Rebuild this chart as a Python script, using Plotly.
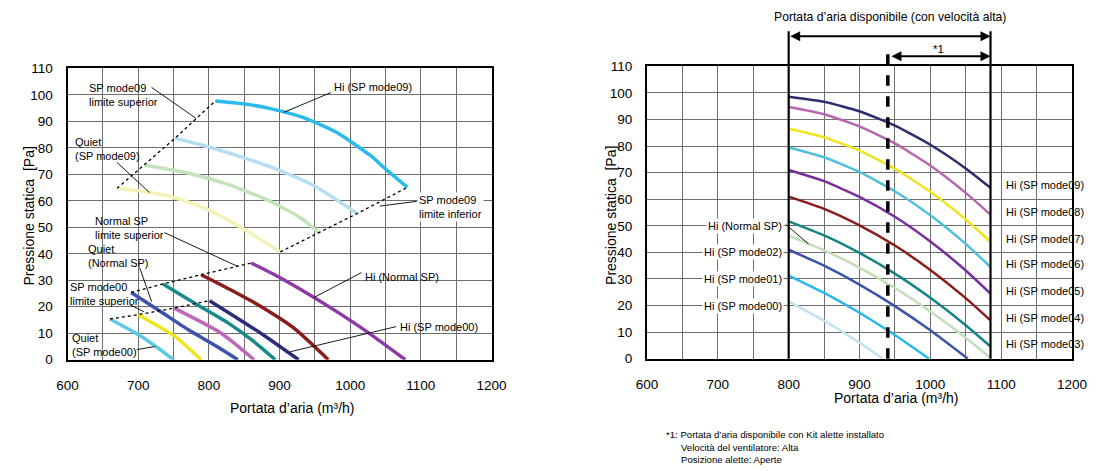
import plotly.graph_objects as go

FONT = "Liberation Sans, Arial, Helvetica, sans-serif"

# ---------------- Left chart: fan curves (air flow m3/h -> static pressure Pa)
# SP mode09 family
m09_quiet_q = [670, 720, 760, 800, 845, 901]
m09_quiet_p = [64.7, 63.0, 60.5, 56.5, 50.0, 40.7]
m09_low_q = [708, 770, 827, 887, 930, 956]
m09_low_p = [73.5, 70.5, 66.2, 59.8, 53.5, 47.9]
m09_mid_q = [752, 800, 850, 900, 950, 1010]
m09_mid_p = [83.6, 80.3, 76.2, 71.5, 65.5, 55.2]
m09_hi_q = [809, 850, 887, 934, 981, 1028, 1051, 1081]
m09_hi_p = [97.7, 96.6, 94.8, 91.4, 85.8, 77.2, 71.8, 65.1]

# Normal SP family
nsp_quiet_q = [690, 730, 771, 806, 841]
nsp_quiet_p = [25.4, 18.5, 11.3, 5.8, 0.0]
nsp_low_q = [735, 780, 827, 862, 894]
nsp_low_p = [28.6, 21.3, 13.9, 7.2, 0.0]
nsp_mid_q = [789, 830, 873, 920, 969]
nsp_mid_p = [32.1, 26.5, 20.2, 12.0, 0.0]
nsp_hi_q = [860, 895, 930, 976, 1023, 1078]
nsp_hi_p = [36.5, 31.8, 26.5, 19.0, 10.7, 0.0]

# SP mode00 family
m00_quiet_q = [660, 700, 725, 750]
m00_quiet_p = [15.4, 9.5, 5.0, 0.0]
m00_low_q = [700, 752, 789]
m00_low_p = [17.0, 8.8, 0.0]
m00_mid_q = [751, 817, 864]
m00_mid_p = [19.5, 10.1, 0.0]
m00_hi_q = [801, 873, 927]
m00_hi_p = [22.3, 10.1, 0.0]

left_series = [
    (m09_quiet_q, m09_quiet_p, "#f4f2b6", "Quiet (SP mode09)"),
    (m09_low_q, m09_low_p, "#c4e2bb", "SP mode09 L"),
    (m09_mid_q, m09_mid_p, "#b6def0", "SP mode09 M"),
    (m09_hi_q, m09_hi_p, "#2bbaec", "Hi (SP mode09)"),
    (nsp_quiet_q, nsp_quiet_p, "#3d52a8", "Quiet (Normal SP)"),
    (nsp_low_q, nsp_low_p, "#188a8a", "Normal SP L"),
    (nsp_mid_q, nsp_mid_p, "#8b1c1c", "Normal SP M"),
    (nsp_hi_q, nsp_hi_p, "#8e3aa6", "Hi (Normal SP)"),
    (m00_quiet_q, m00_quiet_p, "#5ccae0", "Quiet (SP mode00)"),
    (m00_low_q, m00_low_p, "#f0e41c", "SP mode00 L"),
    (m00_mid_q, m00_mid_p, "#c068b8", "SP mode00 M"),
    (m00_hi_q, m00_hi_p, "#2b2d7a", "Hi (SP mode00)"),
]

# ---------------- Right chart: Hi curves for every SP mode
r_q_full = [800, 850, 900, 950, 1000, 1050, 1085]
r_mode09_p = [98.6, 96.7, 93.1, 87.7, 80.5, 71.6, 64.3]
r_mode08_p = [94.7, 92.0, 87.4, 81.0, 72.7, 62.4, 54.2]
r_mode07_p = [86.5, 83.3, 78.3, 71.5, 62.8, 52.4, 44.0]
r_mode06_p = [79.5, 75.8, 70.3, 63.0, 54.0, 43.2, 34.5]
r_mode05_p = [71.0, 66.8, 60.9, 53.4, 44.1, 33.2, 24.5]
r_mode04_p = [61.0, 56.4, 50.2, 42.6, 33.4, 22.8, 14.4]
r_mode03_p = [51.7, 46.4, 39.8, 32.0, 22.9, 12.6, 4.6]
r_normal_p = [46.3, 40.8, 34.3, 26.6, 17.8, 7.9, 0.3]
r_mode02_q = [800, 850, 900, 950, 1000, 1053]
r_mode02_p = [41.0, 35.0, 27.9, 19.8, 10.7, 0.0]
r_mode01_q = [800, 850, 900, 950, 998]
r_mode01_p = [31.3, 24.8, 17.3, 8.9, 0.0]
r_mode00_q = [800, 850, 900, 933]
r_mode00_p = [21.6, 14.3, 6.0, 0.0]

right_series = [
    (r_q_full, r_mode09_p, "#2b2d6e", "Hi (SP mode09)"),
    (r_q_full, r_mode08_p, "#b866b0", "Hi (SP mode08)"),
    (r_q_full, r_mode07_p, "#f0e41c", "Hi (SP mode07)"),
    (r_q_full, r_mode06_p, "#50c0dc", "Hi (SP mode06)"),
    (r_q_full, r_mode05_p, "#7a2e9e", "Hi (SP mode05)"),
    (r_q_full, r_mode04_p, "#8b1c1c", "Hi (SP mode04)"),
    (r_q_full, r_mode03_p, "#148484", "Hi (SP mode03)"),
    (r_q_full, r_normal_p, "#c0e0b8", "Hi (Normal SP)"),
    (r_mode02_q, r_mode02_p, "#3d52a8", "Hi (SP mode02)"),
    (r_mode01_q, r_mode01_p, "#29b8ee", "Hi (SP mode01)"),
    (r_mode00_q, r_mode00_p, "#c0e2ee", "Hi (SP mode00)"),
]

flow_available = [800, 1085]   # available air flow range at high speed
flow_kit = [940, 1085]         # range with louver kit installed

x_ticks = [600, 700, 800, 900, 1000, 1100, 1200]
y_ticks = [0, 10, 20, 30, 40, 50, 60, 70, 80, 90, 100, 110]

W, H = 1096, 471


# layout positions are given in page pixels (page has an 8 px body margin
# and is shown scaled); convert them to paper fractions
def fx(x):
    return (x - 7.9) / 0.9856 / W


def fy(y):
    return 1 - (y - 7.7) / 0.967 / H


fig = go.Figure()

for q, p, color, name in left_series:
    fig.add_trace(go.Scatter(x=q, y=p, mode="lines", name=name,
                             line=dict(color=color, width=3.5, shape="spline", smoothing=0.6),
                             xaxis="x", yaxis="y", showlegend=False))


# dotted limit lines through the ends of each family
def limit_line(curves, first):
    xs = [c[0][0] if first else c[0][-1] for c in curves]
    ys = [c[1][0] if first else c[1][-1] for c in curves]
    fig.add_trace(go.Scatter(x=xs, y=ys, mode="lines", showlegend=False,
                             line=dict(color="black", width=1.3, dash="dot"),
                             xaxis="x", yaxis="y"))


fam09 = [(m09_quiet_q, m09_quiet_p), (m09_low_q, m09_low_p), (m09_mid_q, m09_mid_p), (m09_hi_q, m09_hi_p)]
famn = [(nsp_quiet_q, nsp_quiet_p), (nsp_low_q, nsp_low_p), (nsp_mid_q, nsp_mid_p), (nsp_hi_q, nsp_hi_p)]
fam00 = [(m00_quiet_q, m00_quiet_p), (m00_low_q, m00_low_p), (m00_mid_q, m00_mid_p), (m00_hi_q, m00_hi_p)]
limit_line(fam09, True)
limit_line(fam09, False)
limit_line(famn, True)
limit_line(fam00, True)

for q, p, color, name in right_series:
    fig.add_trace(go.Scatter(x=q, y=p, mode="lines", name=name,
                             line=dict(color=color, width=2.5, shape="spline", smoothing=0.5),
                             xaxis="x2", yaxis="y2", showlegend=False))

axis_font = dict(family=FONT, size=13.5, color="black")
common_x = dict(range=[600, 1200], tickvals=x_ticks, showgrid=True, gridcolor="#6e6e6e",
                gridwidth=1, minor=dict(dtick=50, showgrid=True, gridcolor="#6e6e6e", gridwidth=1),
                showline=True, linecolor="black", linewidth=2, mirror=True, zeroline=False,
                ticks="", tickfont=axis_font, ticklabelstandoff=12, fixedrange=True)
common_y = dict(range=[0, 110], tickvals=y_ticks, showgrid=True, gridcolor="#6e6e6e", gridwidth=1,
                showline=True, linecolor="black", linewidth=2, mirror=True, zeroline=False,
                ticks="", tickfont=axis_font, ticklabelstandoff=10, fixedrange=True)

R_BOTTOM = fy(359)

fig.update_layout(
    width=W, height=H,
    margin=dict(l=0, r=0, t=0, b=0),
    paper_bgcolor="white", plot_bgcolor="white",
    font=dict(family=FONT, color="black"),
    xaxis=dict(domain=[fx(65), fx(493)], anchor="y", **common_x),
    yaxis=dict(domain=[fy(360), fy(69)], anchor="x", **common_y),
    xaxis2=dict(domain=[fx(650), fx(1079)], anchor="y2", **common_x),
    yaxis2=dict(domain=[R_BOTTOM, fy(67)], anchor="x2", **common_y),
)

ann = []
shapes = []


def text(x, y, s, xref="x", yref="y", xanchor="left", size=11, yanchor="middle", bg=None, angle=0):
    d = dict(x=x, y=y, xref=xref, yref=yref, text=s, showarrow=False, xanchor=xanchor,
             yanchor=yanchor, align="left", font=dict(family=FONT, size=size, color="black"),
             textangle=angle)
    if bg:
        d["bgcolor"] = bg
    ann.append(d)


def leader(x0, y0, x1, y1, xref="x", yref="y", width=0.9):
    shapes.append(dict(type="line", x0=x0, y0=y0, x1=x1, y1=y1, xref=xref, yref=yref,
                       line=dict(color="black", width=width)))


# ---- left chart labels
text(627, 99.8, "SP mode09<br>limite superior")
leader(719, 102.8, 782, 91.1)
text(608, 79.4, "Quiet<br>(SP mode09)")
leader(670, 74.5, 716, 63.1)
text(974, 102.8, "Hi (SP mode09)")
leader(973, 100.9, 906, 93.4)
text(1095, 57.7, "SP mode09<br>limite inferior", bg="white")
leader(1094, 59.8, 1042, 58.0)
text(636, 49.9, "Normal SP<br>limite superior")
leader(737, 48.0, 841, 35.2)
text(626, 39.1, "Quiet<br>(Normal SP)")
leader(702, 34.8, 719, 21.9)
text(601, 25.0, "SP mode00<br>limite superior")
leader(688, 20.8, 708, 18.1)
text(603, 5.5, "Quiet<br>(SP mode00)")
leader(698, 3.8, 724, 5.0)
text(1018, 31.4, "Hi (Normal SP)")
leader(1016, 32.9, 948, 23.4)
text(1067, 12.5, "Hi (SP mode00)")
leader(1065, 12.5, 915, 3.0)

# ---- right chart labels at curve ends
for q, p, color, name in right_series[:7]:
    text(1104, p[-1] + 1.0, name, xref="x2", yref="y2")
for lvl, name in [(50, "Hi (Normal SP)"), (40, "Hi (SP mode02)"),
                  (30, "Hi (SP mode01)"), (20, "Hi (SP mode00)")]:
    text(793, lvl, name, xref="x2", yref="y2", xanchor="right", bg="white")
leader(796, 50.5, 828, 43.2, xref="x2", yref="y2")

# available range markers
for q_line in flow_available:
    shapes.append(dict(type="line", x0=q_line, x1=q_line, y0=R_BOTTOM, y1=fy(32), xref="x2",
                       yref="paper", line=dict(color="black", width=2.2)))
shapes.append(dict(type="line", x0=flow_kit[0], x1=flow_kit[0], y0=R_BOTTOM, y1=fy(53),
                   xref="x2", yref="paper", line=dict(color="black", width=3.5, dash="dash")))

ann.append(dict(x=flow_available[1], y=fy(37), xref="x2", yref="paper",
                ax=flow_available[0], ay=0, axref="x2", ayref="pixel", text="",
                showarrow=True, arrowside="end+start", arrowhead=2, startarrowhead=2,
                arrowwidth=2, arrowcolor="black", arrowsize=1, startarrowsize=1))
ann.append(dict(x=flow_kit[1], y=fy(57), xref="x2", yref="paper",
                ax=flow_kit[0] + 3, ay=0, axref="x2", ayref="pixel", text="",
                showarrow=True, arrowside="end+start", arrowhead=2, startarrowhead=2,
                arrowwidth=2, arrowcolor="black", arrowsize=1, startarrowsize=1))
text(1011, fy(50), "*1", xref="x2", yref="paper", xanchor="center", size=11.5)
text(fx(895), fy(18), "Portata d’aria disponibile (con velocità alta)", xref="paper",
     yref="paper", xanchor="center", size=12.2)

# axis titles
text(fx(292), fy(408), "Portata d’aria (m³/h)", xref="paper", yref="paper",
     xanchor="center", size=14)
text(fx(901), fy(398), "Portata d’aria (m³/h)", xref="paper", yref="paper",
     xanchor="center", size=14)
text(fx(26), fy(216), "Pressione statica  [Pa]", xref="paper", yref="paper",
     xanchor="center", size=14, angle=-90)
text(fx(613), fy(216), "Pressione statica  [Pa]", xref="paper", yref="paper",
     xanchor="center", size=14, angle=-90)

# footnote
text(fx(667), fy(435), "*1: Portata d’aria disponibile con Kit alette installato",
     xref="paper", yref="paper", size=9.6)
text(fx(682), fy(448), "Velocità del ventilatore: Alta", xref="paper", yref="paper", size=9.6)
text(fx(682), fy(460), "Posizione alette: Aperte", xref="paper", yref="paper", size=9.6)

fig.update_layout(annotations=ann, shapes=shapes)
fig.write_html("out.html")
